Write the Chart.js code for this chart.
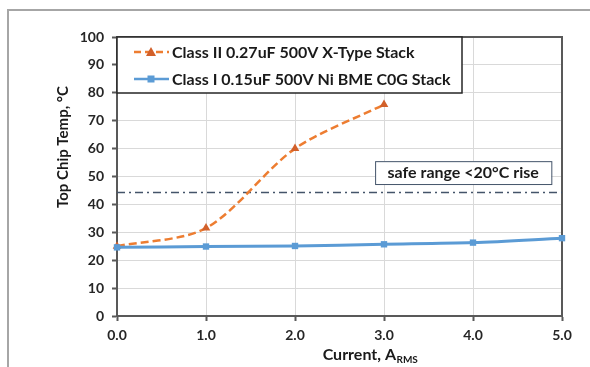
<!DOCTYPE html>
<html>
<head>
<meta charset="utf-8">
<script src="https://cdn.jsdelivr.net/npm/chart.js@4.4.1/dist/chart.umd.min.js"></script>
<style>
  html, body { margin: 0; padding: 0; background: #fff; }
  #wrap { width: 590px; height: 367px; position: relative; }
</style>
</head>
<body>
<div id="wrap"><canvas id="c" width="590" height="367"></canvas></div>
<script>
// ---- data ----
const currentX = [0, 1, 2, 3, 4, 5];
const xTickLabels = ['0.0', '1.0', '2.0', '3.0', '4.0', '5.0'];
const classIILabel = 'Class II 0.27uF 500V X-Type Stack';
const classIIValues = [25, 31.5, 60, 75.8];
const classILabel = 'Class I 0.15uF 500V Ni BME C0G Stack';
const classIValues = [24.6, 24.9, 25.1, 25.7, 26.3, 27.9];
const safeX = [0, 5];
const safeY = [44.3, 44.3];
const safeLabel = 'safe range <20°C rise';
const yTitle = 'Top Chip Temp, °C';
const xTitleMain = 'Current, A';
const xTitleSub = 'RMS';

const FONT = 'Lato, "Open Sans", sans-serif';
const ORANGE = '#ED7D31';
const ORANGE_DARK = '#D2602A';
const BLUE = '#5B9BD5';
const SLATE = '#44546A';
const AXIS = '#595959';
const TEXT = '#1a1a1a';

function pts(xs, ys) { return ys.map((y, i) => ({ x: xs[i], y })); }

function fitFont(ctx, text, base, target) {
  ctx.font = 'bold ' + base + 'px ' + FONT;
  const w = ctx.measureText(text).width;
  return Math.min(base, base * target / w);
}

const decor = {
  id: 'decor',
  beforeDraw(chart) {
    const ctx = chart.ctx;
    ctx.save();
    ctx.fillStyle = '#fff';
    ctx.fillRect(0, 0, chart.width, chart.height);
    ctx.strokeStyle = '#a6a6a6';
    ctx.lineWidth = 2;
    ctx.beginPath();
    ctx.moveTo(8, chart.height);
    ctx.lineTo(8, 10);
    ctx.lineTo(chart.width, 10);
    ctx.stroke();
    ctx.restore();
  },
  beforeDatasetsDraw(chart) {
    const ctx = chart.ctx, a = chart.chartArea;
    ctx.save();
    ctx.strokeStyle = AXIS;
    ctx.lineWidth = 2;
    ctx.beginPath();
    ctx.moveTo(a.left, a.top);
    ctx.lineTo(a.right, a.top);
    ctx.lineTo(a.right, a.bottom);
    ctx.stroke();
    ctx.restore();
  },
  afterDatasetsDraw(chart) {
    const ctx = chart.ctx, a = chart.chartArea;
    const xs = chart.scales.x, ys = chart.scales.y;
    ctx.save();
    // legend box
    const lx0 = a.left, ly0 = a.top, lx1 = 462, ly1 = 93;
    ctx.fillStyle = '#fff';
    ctx.fillRect(lx0, ly0, lx1 - lx0, ly1 - ly0);
    ctx.strokeStyle = '#262626';
    ctx.lineWidth = 1.5;
    ctx.strokeRect(lx0, ly0, lx1 - lx0, ly1 - ly0);
    const rows = [
      { y: 52, label: classIILabel, color: ORANGE, dash: [7, 4], marker: 'tri' },
      { y: 79, label: classILabel, color: BLUE, dash: [], marker: 'sq' }
    ];
    ctx.font = 'bold 16px ' + FONT;
    ctx.textBaseline = 'middle';
    ctx.textAlign = 'left';
    rows.forEach(r => {
      ctx.strokeStyle = r.color;
      ctx.lineWidth = 2.5;
      ctx.setLineDash(r.dash);
      ctx.beginPath();
      ctx.moveTo(134, r.y);
      ctx.lineTo(169, r.y);
      ctx.stroke();
      ctx.setLineDash([]);
      if (r.marker === 'tri') {
        ctx.fillStyle = ORANGE_DARK;
        ctx.beginPath();
        ctx.moveTo(151, r.y - 5);
        ctx.lineTo(156, r.y + 4);
        ctx.lineTo(146, r.y + 4);
        ctx.closePath();
        ctx.fill();
      } else {
        ctx.fillStyle = BLUE;
        ctx.fillRect(147.5, r.y - 3.5, 7, 7);
      }
      ctx.fillStyle = TEXT;
      ctx.fillText(r.label, 172, r.y + 0.5);
    });
    // safe range annotation
    const bx0 = xs.getPixelForValue(2.9), bx1 = xs.getPixelForValue(4.88);
    const by0 = ys.getPixelForValue(55.5), by1 = ys.getPixelForValue(47.3);
    ctx.fillStyle = '#fff';
    ctx.fillRect(bx0, by0, bx1 - bx0, by1 - by0);
    ctx.strokeStyle = SLATE;
    ctx.lineWidth = 1;
    ctx.strokeRect(bx0 + 0.5, by0 + 0.5, bx1 - bx0, by1 - by0);
    ctx.fillStyle = TEXT;
    ctx.textAlign = 'center';
    ctx.font = 'bold ' + fitFont(ctx, safeLabel, 16, 154) + 'px ' + FONT;
    ctx.fillText(safeLabel, (bx0 + bx1) / 2, (by0 + by1) / 2 + 0.5);
    // y title
    ctx.save();
    ctx.translate(63, 147);
    ctx.rotate(-Math.PI / 2);
    ctx.font = 'bold 15px ' + FONT;
    ctx.fillStyle = TEXT;
    ctx.textAlign = 'center';
    ctx.fillText(yTitle, 0, 0);
    ctx.restore();
    // x title with subscript
    ctx.textBaseline = 'alphabetic';
    ctx.font = 'bold 16px ' + FONT;
    const w1 = ctx.measureText(xTitleMain).width;
    ctx.font = 'bold 10px ' + FONT;
    const w2 = ctx.measureText(xTitleSub).width;
    const tx = 370 - (w1 + w2) / 2;
    ctx.textAlign = 'left';
    ctx.fillStyle = TEXT;
    ctx.font = 'bold 16px ' + FONT;
    ctx.fillText(xTitleMain, tx, 360);
    ctx.font = 'bold 10px ' + FONT;
    ctx.fillText(xTitleSub, tx + w1 + 0.5, 363);
    ctx.restore();
  }
};

new Chart(document.getElementById('c'), {
  type: 'line',
  data: {
    datasets: [
      {
        label: classIILabel,
        data: pts(currentX, classIIValues),
        borderColor: ORANGE,
        borderWidth: 2.5,
        borderDash: [8, 4],
        pointStyle: 'triangle',
        pointRadius: 5,
        pointBackgroundColor: ORANGE_DARK,
        pointBorderColor: ORANGE_DARK,
        pointBorderWidth: 0,
        tension: 0.3,
        clip: false,
        order: 2
      },
      {
        label: classILabel,
        data: pts(currentX, classIValues),
        borderColor: BLUE,
        borderWidth: 3,
        pointStyle: 'rect',
        pointRadius: 4.5,
        pointBackgroundColor: BLUE,
        pointBorderColor: BLUE,
        pointBorderWidth: 0,
        tension: 0.3,
        clip: false,
        order: 1
      },
      {
        label: safeLabel,
        data: pts(safeX, safeY),
        borderColor: SLATE,
        borderWidth: 1.5,
        borderDash: [8, 4, 2, 4],
        pointRadius: 0,
        tension: 0,
        clip: false,
        order: 3
      }
    ]
  },
  options: {
    responsive: false,
    animation: false,
    devicePixelRatio: 1,
    layout: { padding: { left: 0, top: 37, right: 28, bottom: 0 } },
    plugins: { legend: { display: false }, tooltip: { enabled: false }, title: { display: false } },
    scales: {
      x: {
        type: 'linear',
        min: 0, max: 5,
        ticks: {
          stepSize: 1,
          callback: (v) => { const i = currentX.indexOf(v); return i >= 0 ? xTickLabels[i] : ''; },
          font: { family: FONT, size: 14, weight: 'bold' },
          color: '#262626',
          padding: 6,
          maxRotation: 0
        },
        grid: { color: '#d9d9d9', lineWidth: 1, tickLength: 5, tickColor: AXIS, tickWidth: 2 },
        border: { color: AXIS, width: 2 },
        afterFit: (s) => { s.height = 51; }
      },
      y: {
        min: 0, max: 100,
        ticks: {
          stepSize: 10,
          font: { family: FONT, size: 14, weight: 'bold' },
          color: '#262626',
          padding: 8
        },
        grid: { color: '#d9d9d9', lineWidth: 1, tickLength: 5, tickColor: AXIS, tickWidth: 2 },
        border: { color: AXIS, width: 2 },
        afterFit: (s) => { s.width = 117; }
      }
    }
  },
  plugins: [decor]
});
</script>
</body>
</html>
